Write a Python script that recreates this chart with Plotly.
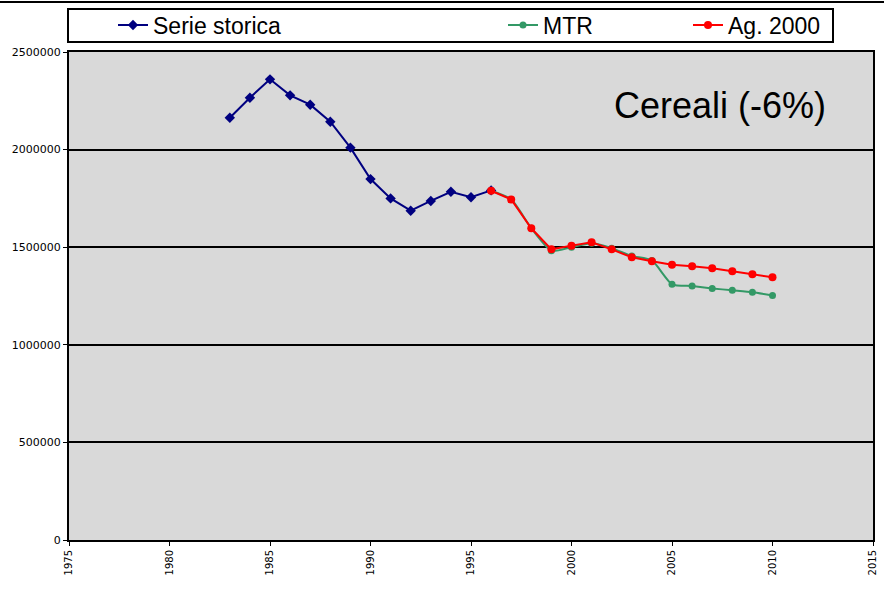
import plotly.graph_objects as go

years_hist = list(range(1983, 1997))
serie_storica = [2163000, 2266000, 2360000, 2278000, 2230000, 2143000, 2010000,
                 1849000, 1750000, 1687000, 1737000, 1784000, 1756000, 1791000]

years_proj = list(range(1996, 2011))
mtr = [1789000, 1745000, 1597000, 1482000, 1500000, 1520000, 1495000, 1455000,
       1432000, 1310000, 1301000, 1289000, 1279000, 1269000, 1253000]
ag2000 = [1789000, 1745000, 1597000, 1489000, 1508000, 1525000, 1489000, 1448000,
          1428000, 1410000, 1402000, 1392000, 1377000, 1361000, 1346000]

x_ticks = list(range(1975, 2016, 5))
y_ticks = [0, 500000, 1000000, 1500000, 2000000, 2500000]

NAVY = "#000080"
GREEN = "#339966"
RED = "#FF0000"

fig = go.Figure()
fig.add_trace(go.Scatter(x=years_hist, y=serie_storica, name="Serie storica",
                         mode="lines+markers", line=dict(color=NAVY, width=2),
                         marker=dict(symbol="diamond", size=8, color=NAVY),
                         legend="legend"))
fig.add_trace(go.Scatter(x=years_proj, y=mtr, name="MTR",
                         mode="lines+markers", line=dict(color=GREEN, width=2, shape="spline", smoothing=0.6),
                         marker=dict(symbol="circle", size=7, color=GREEN),
                         legend="legend2"))
fig.add_trace(go.Scatter(x=years_proj, y=ag2000, name="Ag. 2000",
                         mode="lines+markers", line=dict(color=RED, width=2),
                         marker=dict(symbol="circle", size=8, color=RED),
                         legend="legend3"))

L, R, T, B = 69, 11, 52, 54
W, H = 884, 594
pw, ph = W - L - R, H - T - B

def px(x):
    return (x - L) / pw

def py(y):
    return (H - B - y) / ph

legend_common = dict(orientation="h", yanchor="middle", xanchor="left",
                     bgcolor="rgba(0,0,0,0)", borderwidth=0,
                     font=dict(family="Liberation Sans, Arial", size=23, color="black"))

fig.update_layout(
    width=W, height=H,
    margin=dict(l=L, r=R, t=T, b=B, pad=0, autoexpand=False),
    paper_bgcolor="white",
    plot_bgcolor="#D9D9D9",
    font=dict(family="Liberation Sans, Arial", color="black"),
    showlegend=True,
    legend=dict(x=px(113), y=py(25), **legend_common),
    legend2=dict(x=px(503), y=py(25), **legend_common),
    legend3=dict(x=px(688), y=py(25), **legend_common),
    xaxis=dict(range=[1975, 2015], tickmode="array", tickvals=x_ticks,
               ticktext=[str(t) for t in x_ticks], tickangle=-90,
               showgrid=False, zeroline=False, showline=True, linecolor="black",
               linewidth=2, mirror=True, ticks="outside", ticklen=4,
               tickcolor="black", tickfont=dict(size=10, family="DejaVu Sans")),
    yaxis=dict(range=[0, 2500000], tickmode="array", tickvals=y_ticks,
               ticktext=[str(t) for t in y_ticks],
               showgrid=True, gridcolor="black", gridwidth=1.5, zeroline=False,
               showline=True, linecolor="black", linewidth=2, mirror=True,
               ticks="outside", ticklen=4, tickcolor="black",
               tickfont=dict(size=11, family="DejaVu Sans")),
    shapes=[
        dict(type="rect", xref="paper", yref="paper",
             x0=px(68), x1=px(833), y0=py(42), y1=py(9),
             line=dict(color="black", width=2), fillcolor="white", layer="below"),
        dict(type="line", xref="paper", yref="paper",
             x0=px(0), x1=px(884), y0=py(2), y1=py(2),
             line=dict(color="black", width=2)),
    ],
    annotations=[
        dict(text="Cereali (-6%)", xref="paper", yref="paper",
             x=px(828), y=py(105), xanchor="right", yanchor="middle",
             showarrow=False, font=dict(size=36, family="Liberation Sans, Arial", color="black")),
    ],
)

fig.write_html("out.html", config={"displayModeBar": False},
               post_script="document.body.style.margin='0px';document.body.style.padding='0px';")
